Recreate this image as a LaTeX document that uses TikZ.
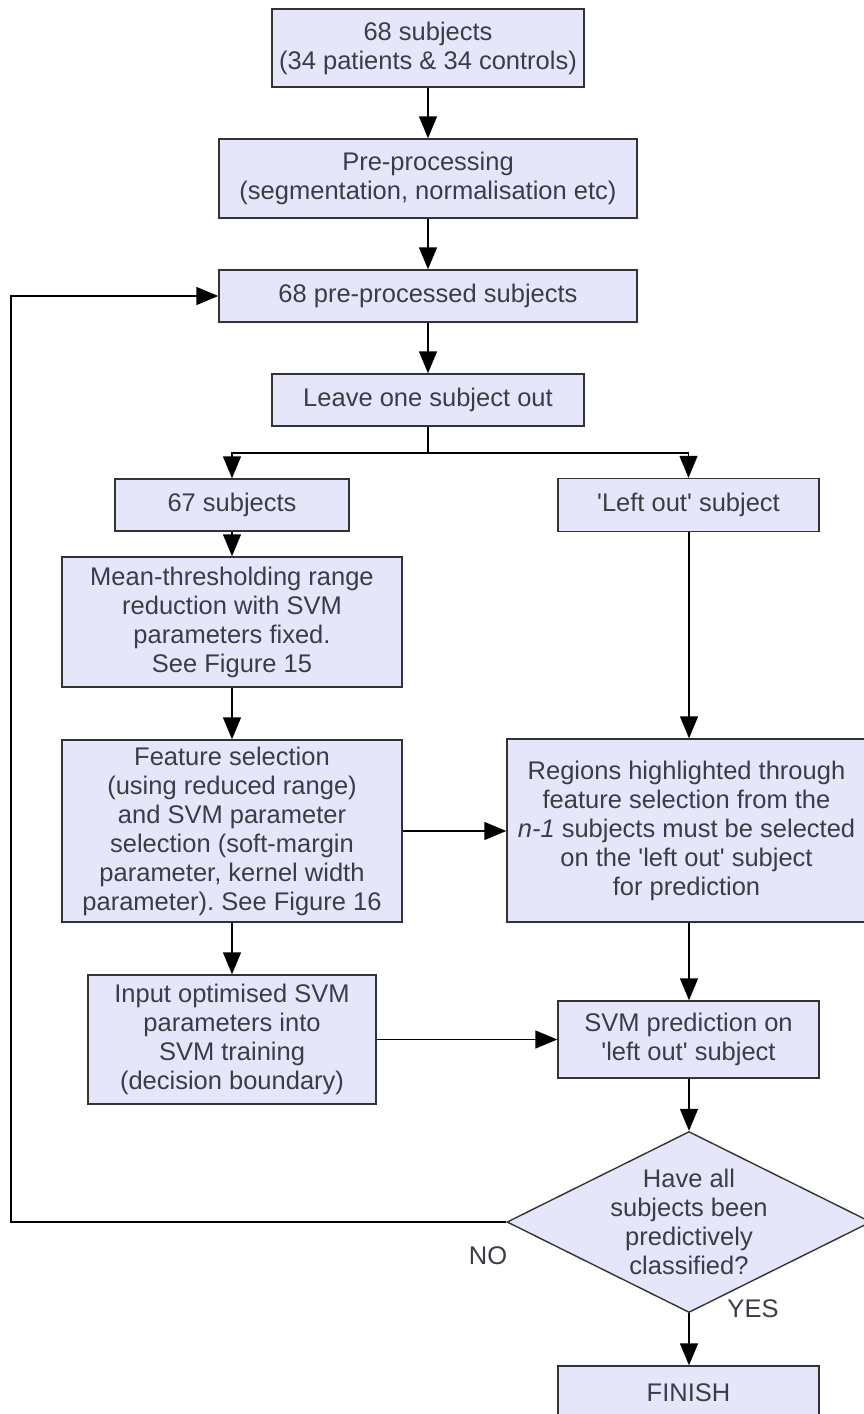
\documentclass[tikz,border=0pt]{standalone}
\usepackage{fontspec}
\setmainfont{Liberation Sans}
\usetikzlibrary{arrows.meta,shapes.geometric}
\definecolor{boxfill}{HTML}{E6E6FA}
\definecolor{boxline}{HTML}{333333}
\definecolor{txt}{HTML}{3C3C46}
\newcommand{\sq}{\textquotesingle}
\frenchspacing
\begin{document}
\begin{tikzpicture}[x=1pt,y=-1pt,
  font=\fontsize{25.5}{29}\selectfont,
  every node/.style={text=txt},
  box/.style={draw=boxline,fill=boxfill,line width=1.4pt,inner sep=0pt,
    align=center,minimum width=#1},
  box/.default=200,
  arr/.style={line width=1.4pt,draw=black,-{Triangle[length=22pt,width=18pt]}},
  line/.style={line width=1.4pt,draw=black}]
\useasboundingbox (0,0) rectangle (864,1414);
\fill[white] (0,0) rectangle (864,1414);
\begin{scope}
\clip (0,0) rectangle (864,1414);
% main column
\node[box=312,minimum height=78] (top) at (428,48) {68 subjects\\(34 patients \& 34 controls)};
\node[box=418,minimum height=79] (pre) at (428,178.5) {Pre-processing\\(segmentation, normalisation etc)};
\node[box=418,minimum height=52] (pp) at (428,296) {68 pre-processed subjects};
\node[box=312,minimum height=52] (leave) at (428,400) {Leave one subject out};
% left branch
\node[box=234,minimum height=52] (s67) at (232,505) {67 subjects};
\node[box=340,minimum height=130] (mean) at (232,622) {Mean-thresholding range\\reduction with SVM\\parameters fixed.\\See Figure 15};
\node[box=340,minimum height=182] (feat) at (232,831) {Feature selection\\(using reduced range)\\and SVM parameter\\selection (soft-margin\\parameter, kernel width\\parameter). See Figure 16};
\node[box=288,minimum height=129] (input) at (232,1039.5) {Input optimised SVM\\parameters into\\SVM training\\(decision boundary)};
% right branch
\node[box=261,minimum height=53] (lo) at (688.5,505) {\sq Left out\sq{} subject};
\node[box=359,minimum height=183] (regions) at (686.5,830.5) {Regions highlighted through\\feature selection from the\\\textit{n-1} subjects must be selected\\on the \sq left out\sq{} subject\\for prediction};
\node[box=261,minimum height=77] (pred) at (688.5,1039.5) {SVM prediction on\\\sq left out\sq{} subject};
\node[draw=boxline,fill=boxfill,line width=1.4pt,diamond,inner sep=0pt,
  minimum width=364,minimum height=181] (dia) at (689,1222) {};
\node[align=center,inner sep=0pt] (diatext) at (dia.center) {Have all\\subjects been\\predictively\\classified?};
\node[box=261,minimum height=54] (finish) at (688.5,1393) {FINISH};
\node[anchor=base,inner sep=0pt] (no) at (488,1264) {NO};
\node[anchor=base,inner sep=0pt] (yes) at (753,1317) {YES};
% connectors
\coordinate (j) at (428,453);
\coordinate (loopx) at (11,0);
\draw[arr] (top) -- (pre);
\draw[arr] (pre) -- (pp);
\draw[arr] (pp) -- (leave);
\draw[line] (leave.south) -- (j);
\draw[arr] (j) -| (s67.north);
\draw[arr] (j) -| (lo.north);
\draw[arr] (s67) -- (mean);
\draw[arr] (mean) -- (feat);
\draw[arr] (feat.south) -- (input.north);
\draw[arr] (feat.east) -- (feat.east -| regions.west);
\draw[arr] (lo.south -| 689,0) -- (regions.north -| 689,0);
\draw[arr] (regions.south -| 689,0) -- (pred.north -| 689,0);
\draw[arr] (input.east) -- (pred.west);
\draw[arr] (pred.south -| dia.north) -- (dia.north);
\draw[arr] (dia.south) -- (dia.south |- finish.north);
\draw[arr] (dia.west) -- (dia.west -| loopx) |- (pp.west);
\end{scope}
\end{tikzpicture}
\end{document}
